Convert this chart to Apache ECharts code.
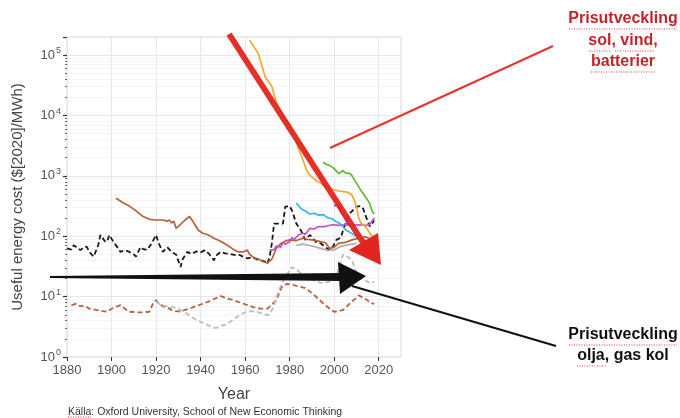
<!DOCTYPE html>
<html>
<head>
<meta charset="utf-8">
<script src="https://cdn.jsdelivr.net/npm/echarts@6/dist/echarts.min.js"></script>
<style>
  html, body { margin: 0; padding: 0; background: #fff; }
  #chart { width: 680px; height: 418px; }
</style>
</head>
<body>
<div id="chart"></div>
<script>
// cost in $[2020]/MWh
const solarYears = [1962, 1966, 1969, 1972, 1974, 1976, 1978, 1980, 1982, 1984, 1986, 1988, 1990, 1992, 1994, 1996, 1998, 2000, 2002, 2004, 2006, 2008, 2009, 2010, 2011, 2012, 2014, 2016, 2018]
const solarCost = [178000, 105000, 43600, 30200, 16600, 11700, 8500, 7080, 5000, 2820, 1820, 1150, 955, 832, 759, 661, 617, 589, 562, 550, 537, 479, 398, 309, 200, 166, 145, 112, 89]

const batteryYears = [1995, 1996, 1998, 2000, 2002, 2003, 2004, 2005, 2006, 2007, 2008, 2010, 2012, 2013, 2015, 2016, 2017, 2018]
const batteryCost = [1700, 1585, 1480, 1320, 1100, 1150, 1230, 1120, 1100, 1100, 1000, 760, 575, 513, 400, 347, 263, 234]

const windYears = [1983, 1985, 1987, 1989, 1991, 1993, 1995, 1997, 1999, 2001, 2003, 2005, 2007, 2009, 2011, 2013, 2015]
const windCost = [355, 288, 263, 234, 240, 224, 229, 204, 195, 174, 158, 129, 117, 105, 95, 87, 83]

const bioYears = [1971, 1973, 1974, 1976, 1977, 1978, 1980, 1981, 1982, 1984, 1986, 1987, 1989, 1991, 1993, 1996, 1999, 2002, 2005, 2008, 2011, 2014, 2016, 2018]
const bioCost = [59, 60, 69, 66, 79, 74, 81, 95, 89, 105, 112, 107, 135, 132, 145, 145, 155, 151, 155, 151, 155, 151, 158, 200]

const violetYears = [2000, 2001, 2002, 2003, 2004, 2005, 2006, 2007]
const violetCost = [316, 331, 302, 251, 224, 191, 162, 151]

const nuclearYears = [1902, 1905, 1908, 1911, 1914, 1917, 1920, 1923, 1925, 1926, 1927, 1928, 1929, 1931, 1933, 1935, 1937, 1939, 1941, 1943, 1946, 1949, 1952, 1955, 1957, 1959, 1961, 1962, 1964, 1966, 1968, 1970, 1972, 1974, 1976, 1978, 1980, 1983, 1986, 1988, 1990, 1993, 1996, 1998, 2000, 2002, 2005, 2008, 2011, 2014, 2016]
const nuclearCost = [427, 363, 316, 263, 214, 191, 186, 186, 178, 186, 166, 178, 135, 158, 186, 214, 166, 126, 112, 107, 93, 83, 71, 60, 55, 55, 59, 50, 44, 42, 38, 36, 42, 63, 76, 83, 87, 85, 93, 89, 87, 83, 78, 63, 66, 76, 79, 87, 93, 98, 91]

const hydroYears = [1983, 1986, 1990, 1994, 1997, 2000, 2003, 2006, 2010]
const hydroCost = [71, 74, 69, 63, 58, 60, 68, 72, 76]

const coalYears = [1880, 1882, 1883, 1885, 1886, 1888, 1889, 1890, 1892, 1894, 1895, 1897, 1898, 1899, 1901, 1903, 1904, 1906, 1908, 1910, 1911, 1913, 1914, 1916, 1918, 1920, 1921, 1923, 1925, 1927, 1929, 1931, 1932, 1934, 1936, 1938, 1940, 1942, 1944, 1946, 1947, 1949, 1951, 1953, 1955, 1957, 1959, 1961, 1963, 1965, 1967, 1969, 1970, 1971, 1972, 1973, 1975, 1977, 1978, 1980, 1981, 1983, 1985, 1987, 1989, 1990, 1992, 1994, 1996, 1998, 1999, 2001, 2003, 2004, 2006, 2007, 2009, 2010, 2012, 2013, 2014, 2016, 2018]
const coalCost = [63, 60, 71, 63, 59, 68, 66, 55, 46, 71, 105, 83, 81, 105, 79, 63, 55, 59, 55, 50, 46, 66, 62, 59, 76, 105, 79, 55, 66, 55, 50, 31, 42, 55, 51, 56, 54, 59, 50, 40, 48, 55, 52, 51, 49, 50, 46, 43, 45, 42, 40, 38, 35, 46, 76, 162, 162, 162, 309, 316, 269, 162, 126, 87, 105, 98, 79, 76, 66, 59, 63, 87, 95, 126, 200, 240, 282, 309, 316, 288, 224, 145, 182]

const oilYears = [1882, 1884, 1886, 1888, 1890, 1893, 1896, 1898, 1900, 1902, 1904, 1906, 1908, 1911, 1914, 1917, 1919, 1920, 1921, 1923, 1925, 1927, 1929, 1931, 1933, 1935, 1937, 1940, 1943, 1946, 1949, 1952, 1955, 1958, 1961, 1964, 1967, 1970, 1972, 1974, 1976, 1977, 1979, 1981, 1984, 1987, 1990, 1993, 1996, 1998, 2000, 2002, 2004, 2006, 2008, 2010, 2011, 2013, 2015, 2016, 2018]
const oilCost = [7.24, 7.59, 6.92, 7.08, 6.31, 6.03, 5.75, 5.62, 6.31, 6.76, 7.24, 6.31, 5.62, 5.5, 5.5, 5.62, 8.32, 8.71, 7.94, 6.92, 6.61, 6.03, 5.75, 5.62, 6.03, 6.31, 6.76, 7.41, 8.13, 9.12, 10.2, 9.33, 8.71, 7.94, 7.24, 6.61, 6.31, 6.31, 7.41, 8.71, 13.2, 15.5, 16.2, 15.8, 14.8, 13.8, 11.5, 9.12, 7.24, 6.31, 5.62, 5.75, 6.03, 7.08, 8.32, 9.55, 10.5, 9.55, 8.71, 7.94, 7.59]

const gasYears = [1920, 1922, 1925, 1928, 1930, 1933, 1936, 1939, 1942, 1945, 1947, 1949, 1951, 1954, 1957, 1960, 1963, 1966, 1969, 1971, 1973, 1975, 1977, 1979, 1981, 1983, 1986, 1989, 1992, 1995, 1998, 2000, 2002, 2004, 2006, 2008, 2010, 2012, 2014, 2016, 2018]
const gasCost = [8.32, 7.24, 6.92, 6.61, 6.31, 5.5, 4.57, 3.98, 3.55, 3.16, 3.02, 3.31, 3.39, 3.98, 4.79, 5.5, 5.75, 5.5, 5.01, 5.01, 7.08, 12.6, 17.8, 24, 30.9, 28.2, 22.9, 20, 17.8, 16.6, 17.8, 19.1, 28.2, 50.1, 45.7, 39.8, 25.1, 20, 18.6, 16.6, 17.8]

const yearTicks = [1880, 1900, 1920, 1940, 1960, 1980, 2000, 2020]

const FONT = 'Liberation Sans, Arial, sans-serif'

const zip = (xs, ys) => xs.map((x, i) => [x, ys[i]])

const line = (name, years, cost, color, dashed) => ({
  name,
  type: 'line',
  data: zip(years, cost),
  showSymbol: false,
  symbol: 'none',
  silent: true,
  lineStyle: {
    color,
    width: dashed ? 1.8 : 1.7,
    type: dashed ? [5, 3] : 'solid'
  },
  z: dashed ? 3 : 4
})

// dotted spell-check underline
const squiggle = (x1, x2, y) => ({
  type: 'line',
  shape: { x1, y1: y, x2, y2: y },
  style: { stroke: '#e23a3a', lineWidth: 1, lineDash: [1, 1.5] },
  z: 20
})

const chart = echarts.init(document.getElementById('chart'))

chart.setOption({
  animation: false,
  backgroundColor: '#fff',
  textStyle: { fontFamily: FONT },
  grid: {
    left: 67,
    right: 279,
    top: 37,
    bottom: 61,
    show: true,
    borderColor: '#d9d9d9',
    borderWidth: 1
  },
  xAxis: {
    type: 'value',
    min: 1880,
    max: 2030,
    interval: 20,
    name: 'Year',
    nameLocation: 'middle',
    nameGap: 30,
    nameTextStyle: { color: '#444', fontSize: 16, fontFamily: FONT },
    axisLine: { show: false },
    axisTick: {
      show: true,
      customValues: yearTicks,
      length: 4,
      lineStyle: { color: '#333', width: 1 }
    },
    axisLabel: {
      customValues: yearTicks,
      formatter: v => String(v),
      color: '#555',
      fontSize: 13,
      margin: 7,
      fontFamily: FONT
    },
    splitLine: { show: true, lineStyle: { color: '#e4e9ee', width: 1 } }
  },
  yAxis: {
    type: 'log',
    logBase: 10,
    min: 1,
    max: 200000,
    name: 'Useful energy cost ($[2020]/MWh)',
    nameLocation: 'middle',
    nameGap: 42,
    nameRotate: 90,
    nameTextStyle: { color: '#444', fontSize: 15, fontFamily: FONT },
    axisLine: { show: false },
    axisTick: {
      show: true,
      length: 4,
      lineStyle: { color: '#333', width: 1.2 }
    },
    minorTick: {
      show: true,
      splitNumber: 9,
      length: 2,
      lineStyle: { color: '#666', width: 1 }
    },
    axisLabel: {
      showMaxLabel: false,
      margin: 6,
      formatter: v => {
        const p = Math.round(Math.log10(v))
        if (Math.abs(Math.log10(v) - p) > 1e-6) return ''
        return '{b|10}{s|' + p + '}'
      },
      rich: {
        b: { color: '#555', fontSize: 13, fontFamily: FONT },
        s: { color: '#555', fontSize: 9, fontFamily: FONT, verticalAlign: 'top', padding: [0, 0, 9, 1] }
      }
    },
    splitLine: { show: true, lineStyle: { color: '#e4e9ee', width: 1 } },
    minorSplitLine: { show: true, lineStyle: { color: '#f3f5f8', width: 1 } }
  },
  series: [
    line('oil', oilYears, oilCost, '#b8613d', true),
    line('gas', gasYears, gasCost, '#bdbdbd', true),
    line('coal', coalYears, coalCost, '#1a1a1a', true),
    line('hydro', hydroYears, hydroCost, '#b0b0b0', false),
    line('nuclear', nuclearYears, nuclearCost, '#b8613d', false),
    line('biopower', bioYears, bioCost, '#c94cc4', false),
    line('wind', windYears, windCost, '#33b5ee', false),
    line('violet', violetYears, violetCost, '#8c2fc8', false),
    line('battery', batteryYears, batteryCost, '#62b832', false),
    line('solar', solarYears, solarCost, '#f7a531', false)
  ],
  graphic: [
    // thin pointer lines
    {
      type: 'line',
      shape: { x1: 330, y1: 148, x2: 553, y2: 46 },
      style: { stroke: '#e8332b', lineWidth: 2 },
      z: 10
    },
    {
      type: 'line',
      shape: { x1: 352, y1: 286, x2: 556, y2: 346 },
      style: { stroke: '#111', lineWidth: 2 },
      z: 10
    },
    // red arrow (renewables)
    {
      type: 'line',
      shape: { x1: 229, y1: 34, x2: 364, y2: 244 },
      style: { stroke: '#e2261f', lineWidth: 6, opacity: 0.95 },
      z: 11
    },
    {
      type: 'polygon',
      shape: { points: [[349, 250], [378, 233], [381, 265]] },
      style: { fill: '#e2261f' },
      z: 11
    },
    // black arrow (fossil)
    {
      type: 'polygon',
      shape: { points: [[50, 276], [342, 273], [342, 281], [50, 278]] },
      style: { fill: '#111' },
      z: 11
    },
    {
      type: 'polygon',
      shape: { points: [[338, 262], [366, 276], [340, 294]] },
      style: { fill: '#111' },
      z: 11
    },
    // annotations
    {
      type: 'text',
      x: 623,
      y: 8,
      style: {
        text: 'Prisutveckling\nsol, vind,\nbatterier',
        fill: '#c3242a',
        font: 'bold 16px ' + FONT,
        align: 'center',
        verticalAlign: 'top',
        lineHeight: 21.5
      },
      z: 20
    },
    {
      type: 'text',
      x: 623,
      y: 324,
      style: {
        text: 'Prisutveckling\nolja, gas kol',
        fill: '#111',
        font: 'bold 16px ' + FONT,
        align: 'center',
        verticalAlign: 'top',
        lineHeight: 21
      },
      z: 20
    },
    {
      type: 'text',
      x: 68,
      y: 407,
      style: {
        text: 'Källa: Oxford University, School of New Economic Thinking',
        fill: '#333',
        font: '10.5px ' + FONT,
        verticalAlign: 'top'
      },
      z: 20
    },
    squiggle(569, 677, 29),
    squiggle(589, 610, 51),
    squiggle(615, 655, 51),
    squiggle(591, 656, 72),
    squiggle(569, 677, 345),
    squiggle(577, 606, 366),
    squiggle(68, 91, 417)
  ]
})
</script>
</body>
</html>
